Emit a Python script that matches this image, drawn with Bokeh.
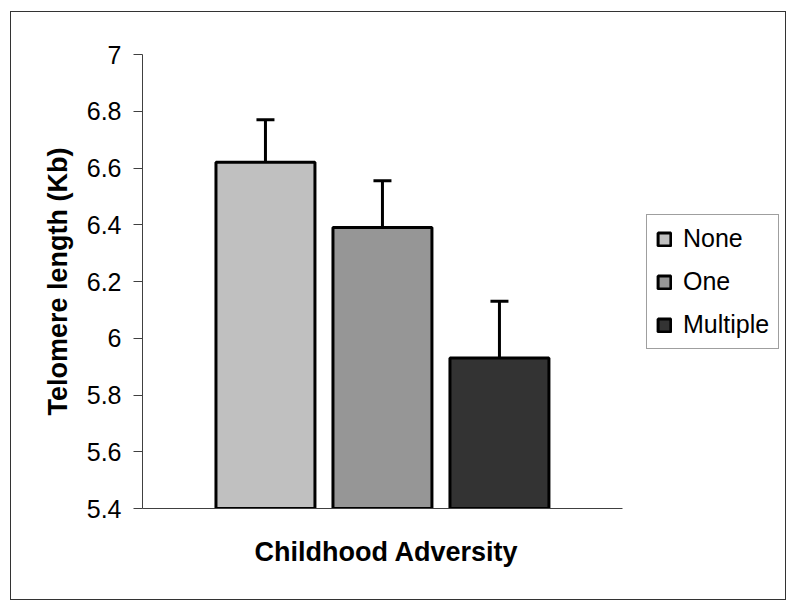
from bokeh.plotting import figure
from bokeh.models import (Range1d, FixedTicker, ColumnDataSource, Whisker,
                          TeeHead, Legend, LegendItem, Title)
from bokeh.embed import file_html
from bokeh.resources import INLINE

categories = ["None", "One", "Multiple"]
telomere_kb = [6.62, 6.39, 5.93]
error_upper = [6.77, 6.555, 6.13]
bar_colors = ["#c0c0c0", "#969696", "#333333"]
y_ticks = [5.4, 5.6, 5.8, 6.0, 6.2, 6.4, 6.6, 6.8, 7.0]
y_tick_labels = ["5.4", "5.6", "5.8", "6", "6.2", "6.4", "6.6", "6.8", "7"]

FONT = "Liberation Sans"

xpos = list(range(len(categories)))
src = ColumnDataSource(dict(x=xpos, cat=categories, top=telomere_kb, up=error_upper, color=bar_colors))

p = figure(
    frame_width=643, frame_height=454,
    x_range=Range1d(-1.051, 4.445),
    y_range=Range1d(5.4, 7.0),
    output_backend="svg", toolbar_location=None,
    min_border_left=131, min_border_right=0, min_border_top=42, min_border_bottom=91,
)
p.styles = {"border": "1px solid #333333", "margin-left": "10px", "margin-top": "11px"}
p.outline_line_color = None
p.grid.visible = False
p.background_fill_color = "white"
p.border_fill_color = "white"

r = p.vbar(x="x", top="top", bottom=5.4, width=0.846, source=src,
           fill_color="color", line_color="black", line_width=3)

w = Whisker(source=src, base="x", upper="up", lower="top", dimension="height",
            line_color="black", line_width=3,
            upper_head=TeeHead(size=18, line_color="black", line_width=3), lower_head=None)
p.add_layout(w)

# y axis
ya = p.yaxis[0]
ya.ticker = FixedTicker(ticks=y_ticks)
ya.major_label_overrides = {t: l for t, l in zip(y_ticks, y_tick_labels)}
ya.major_label_text_font = FONT
ya.major_label_text_font_size = "25px"
ya.major_label_text_color = "black"
ya.major_label_standoff = 12
ya.major_tick_out = 9
ya.major_tick_in = 0
ya.minor_tick_line_color = None
ya.axis_line_color = "#404040"
ya.major_tick_line_color = "#404040"
ya.axis_label = "Telomere length (Kb)"
ya.axis_label_text_font = FONT
ya.axis_label_text_font_style = "bold"
ya.axis_label_text_font_size = "27px"
ya.axis_label_text_color = "black"
ya.axis_label_standoff = 11

# x axis (line limited to the plotting area, legend sits to its right)
xa = p.xaxis[0]
xa.bounds = (-1.051, 3.056)
xa.ticker = FixedTicker(ticks=[])
xa.major_label_text_font_size = "0px"
xa.major_label_standoff = 0
xa.major_tick_out = 0
xa.major_tick_in = 0
xa.major_tick_line_color = None
xa.minor_tick_line_color = None
xa.axis_line_color = "#404040"

# x axis title, centred under the bars' area
xt = Title(text="Childhood Adversity", align="left", offset=112, standoff=52,
           text_font=FONT, text_font_style="bold", text_font_size="27px", text_color="black")
p.add_layout(xt, "below")

items = [LegendItem(label=c, renderers=[r], index=i) for i, c in enumerate(categories)]
legend = Legend(items=items, location=(504, 159))
legend.label_text_font = FONT
legend.label_text_font_size = "25px"
legend.label_text_color = "black"
legend.glyph_width = 16
legend.glyph_height = 16
legend.label_standoff = 11
legend.padding = 9
legend.spacing = 14
legend.border_line_color = "#404040"
legend.border_line_width = 1
legend.background_fill_color = "white"
legend.background_fill_alpha = 1
p.add_layout(legend, "center")

open("out.html", "w").write(file_html(p, INLINE))
